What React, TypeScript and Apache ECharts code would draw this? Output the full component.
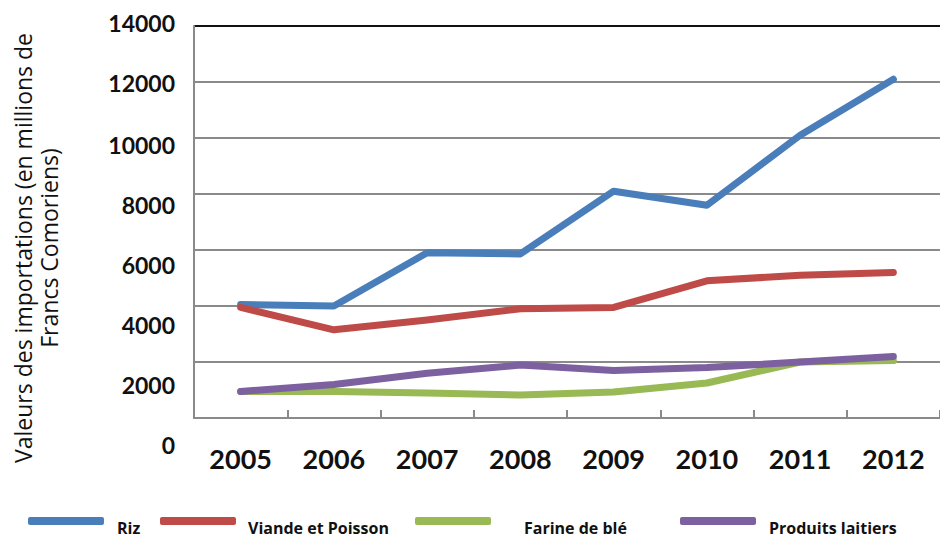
import React, { useEffect, useRef } from "react";
import * as echarts from "echarts";

const years = ["2005", "2006", "2007", "2008", "2009", "2010", "2011", "2012"];
const riz = [4050, 4000, 5900, 5860, 8100, 7600, 10100, 12100];
const viande = [3950, 3150, 3500, 3900, 3950, 4900, 5100, 5200];
const farine = [950, 950, 890, 820, 930, 1250, 2000, 2050];
const laitiers = [950, 1200, 1600, 1890, 1700, 1800, 2000, 2200];
const seriesNames = ["Riz", "Viande et Poisson", "Farine de blé", "Produits laitiers"];
const colors = ["#4a7ebb", "#be4b48", "#98b954", "#7d60a0"];
const yTicks = [0, 2000, 4000, 6000, 8000, 10000, 12000, 14000];
// small per-label vertical shifts seen in the reference (px, positive = down)
const yLabelShift = [27, 23, 19, 15, 11, 7, 1, -3];

const FONT = "Lato, 'Open Sans', sans-serif";

export default function App() {
  const ref = useRef<HTMLDivElement>(null);
  useEffect(() => {
    if (!ref.current) return;
    const chart = echarts.init(ref.current, null, { renderer: "svg" });
    const rich: Record<string, any> = {};
    yTicks.forEach((v, i) => {
      const d = yLabelShift[i];
      rich["t" + v] = {
        fontFamily: FONT,
        fontWeight: "bold",
        fontSize: 23,
        color: "#111",
        padding: d >= 0 ? [2 * d, 0, 0, 0] : [0, 0, -2 * d, 0],
      };
    });
    const legendLeft = [28, 160, 415, 680];
    const legendTextGap = [8, 7, 28, 8];
    chart.setOption({
      animation: false,
      backgroundColor: "#ffffff",
      grid: { left: 194, top: 26, right: -2, bottom: 120, containLabel: false },
      legend: seriesNames.map((n, i) => ({
        data: [n],
        left: legendLeft[i],
        top: 506,
        padding: 0,
        icon: "roundRect",
        itemWidth: 76,
        itemHeight: 8,
        formatter: "{a|{name}}",
        textStyle: {
          rich: {
            a: {
              fontFamily: "'Open Sans', sans-serif",
              fontWeight: "bold",
              fontSize: 16,
              color: "#111",
              lineHeight: 20,
              padding: [14, 0, 0, legendTextGap[i]],
            },
          },
        },
      })),
      xAxis: {
        type: "category",
        data: years,
        boundaryGap: true,
        axisLine: { show: true, lineStyle: { color: "#8a8a8a", width: 2 } },
        axisTick: { show: true, inside: true, length: 8, lineStyle: { color: "#8a8a8a", width: 2 } },
        axisLabel: {
          fontFamily: FONT,
          fontWeight: "bold",
          fontSize: 27,
          color: "#111",
          margin: 27,
        },
        splitLine: { show: false },
      },
      yAxis: {
        type: "value",
        min: 0,
        max: 14000,
        interval: 2000,
        axisLine: { show: true, lineStyle: { color: "#8a8a8a", width: 2 } },
        axisTick: { show: false },
        axisLabel: {
          margin: 19,
          formatter: (v: number) => `{t${v}|${v}}`,
          rich,
        },
        splitLine: {
          show: true,
          lineStyle: {
            color: ["#8a8a8a", "#8a8a8a", "#8a8a8a", "#8a8a8a", "#8a8a8a", "#8a8a8a", "#8a8a8a", "#111111"],
            width: 2,
          },
        },
      },
      graphic: [
        {
          type: "text",
          x: 36,
          y: 248,
          rotation: Math.PI / 2,
          style: {
            text: "Valeurs des importations (en millions de\nFrancs Comoriens)",
            align: "center",
            verticalAlign: "middle",
            fontFamily: "'Open Sans', sans-serif",
            fontSize: 23,
            lineHeight: 26,
            fill: "#111",
          },
        },
      ],
      series: [riz, viande, farine, laitiers].map((d, i) => ({
        name: seriesNames[i],
        type: "line",
        data: d,
        symbol: "none",
        color: colors[i],
        lineStyle: { width: 7, color: colors[i], cap: "round", join: "round" },
      })),
    });
    return () => chart.dispose();
  }, []);
  return (
    <div
      ref={ref}
      style={{ position: "absolute", left: 0, top: 0, width: 940, height: 538 }}
    />
  );
}
